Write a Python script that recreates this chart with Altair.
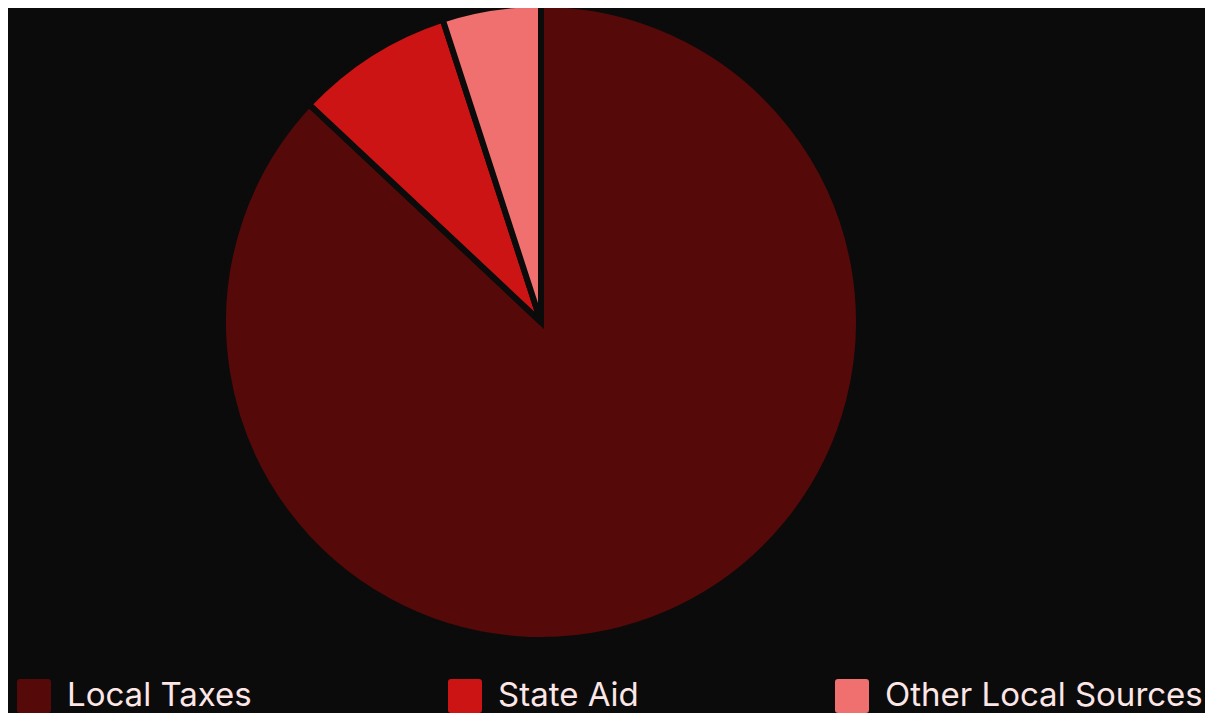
import altair as alt
import pandas as pd

categories = ["Local Taxes", "State Aid", "Other Local Sources"]
values = [87, 8, 5]
colors = ["#560909", "#cc1414", "#f07070"]

df = pd.DataFrame({"source": categories, "share": values, "idx": list(range(len(categories)))})

rounded_square = "M -0.82,-1 H 0.82 Q 1,-1 1,-0.82 V 0.82 Q 1,1 0.82,1 H -0.82 Q -1,1 -1,0.82 V -0.82 Q -1,-1 -0.82,-1 Z"

chart = alt.Chart(df).mark_arc(
    outerRadius=318, stroke="#0b0b0b", strokeWidth=6
).encode(
    x=alt.value(533),
    y=alt.value(314),
    theta=alt.Theta("share:Q", stack=True),
    order=alt.Order("idx:Q"),
    color=alt.Color(
        "source:N",
        scale=alt.Scale(domain=categories, range=colors),
        legend=alt.Legend(
            title=None,
            orient="none",
            legendX=9,
            legendY=671,
            direction="horizontal",
            columnPadding=196,
            symbolType=rounded_square,
            symbolSize=1156,
            symbolStrokeWidth=0,
            labelFontSize=33,
            labelFont="Inter",
            labelColor="#fde6e6",
            labelOffset=16,
            labelLimit=600,
            padding=0,
        ),
    ),
).properties(
    width=1197, height=705, autosize=alt.AutoSizeParams(type="none")
).configure(
    background="#0b0b0b", padding=0
).configure_view(stroke=None)

chart.save("out.html", embed_options={"renderer": "svg", "actions": False})
